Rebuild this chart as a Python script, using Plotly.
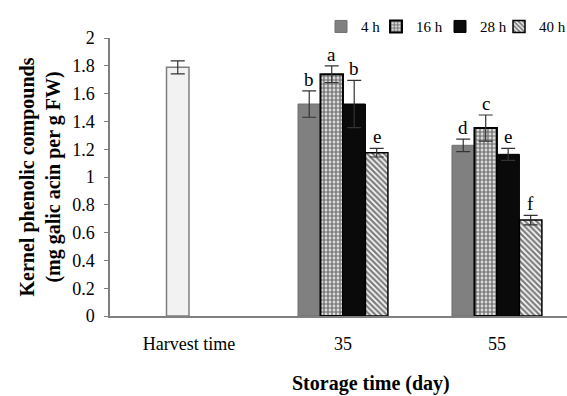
import plotly.graph_objects as go

categories = ["Harvest time", "35", "55"]
series_names = ["4 h", "16 h", "28 h", "40 h"]
storage_cats = ["35", "55"]
values_4h = [1.525, 1.228]
values_16h = [1.739, 1.352]
values_28h = [1.525, 1.163]
values_40h = [1.175, 0.690]
err_4h = [0.095, 0.045]
err_16h = [0.06, 0.094]
err_28h = [0.17, 0.043]
err_40h = [0.031, 0.034]
letters_4h = ["b", "d"]
letters_16h = ["a", "c"]
letters_28h = ["b", "e"]
letters_40h = ["e", "f"]
harvest_value = [1.789]
harvest_err = [0.047]
y_ticks = [0, 0.2, 0.4, 0.6, 0.8, 1, 1.2, 1.4, 1.6, 1.8, 2]
y_ticktext = ["0", "0.2", "0.4", "0.6", "0.8", "1", "1.2", "1.4", "1.6", "1.8", "2"]

FONT = "Liberation Serif, Times New Roman, serif"
W = 0.146
L, R, T, B = 110, 0, 38, 80
PW = 567 - L - R
PH = 396 - T - B

fig = go.Figure()

fig.add_trace(go.Bar(
    x=["Harvest time"], y=harvest_value, width=W, offset=-W,
    marker=dict(color="#f2f2f2", line=dict(color="#7f7f7f", width=1.5)),
    error_y=dict(type="data", array=harvest_err, color="#333333", thickness=1.2, width=7),
    showlegend=False, name="Harvest",
))

styles = [
    dict(color="#808080", line=dict(color="#707070", width=1)),
    dict(color="white", line=dict(color="black", width=2),
         pattern=dict(shape=".", fgcolor="black", bgcolor="white", size=4, solidity=0.7)),
    dict(color="#0a0a0a", line=dict(color="black", width=1)),
    dict(color="white", line=dict(color="black", width=1.5),
         pattern=dict(shape="\\", fgcolor="black", bgcolor="white", size=4, solidity=0.6)),
]
vals = [values_4h, values_16h, values_28h, values_40h]
errs = [err_4h, err_16h, err_28h, err_40h]
lets = [letters_4h, letters_16h, letters_28h, letters_40h]
legend_ids = ["legend", "legend2", "legend3", "legend4"]
legend_px = [321, 376, 440, 499]

for i, name in enumerate(series_names):
    fig.add_trace(go.Bar(
        x=storage_cats, y=vals[i], width=W, offset=-2 * W + i * W,
        marker=styles[i], name=name, legend=legend_ids[i],
        error_y=dict(type="data", array=errs[i], color="#333333", thickness=1.2, width=7),
    ))
    for j, c in enumerate(storage_cats):
        idx = categories.index(c)
        fig.add_annotation(
            x=idx - 1.5 * W + i * W, y=vals[i][j] + errs[i][j],
            text=lets[i][j],
            showarrow=False, yanchor="bottom", yshift=-1,
            font=dict(family=FONT, size=19, color="black"),
        )

fig.add_annotation(
    xref="paper", yref="paper", x=(371 - L) / PW, y=-0.244, yanchor="middle",
    text="<b>Storage time (day)</b>", showarrow=False,
    font=dict(family=FONT, size=20, color="black"),
)

legend_layout = {}
for i, lid in enumerate(legend_ids):
    legend_layout[lid] = dict(
        orientation="h", x=(legend_px[i] - L) / PW, xanchor="left",
        y=1.100, yanchor="top",
        font=dict(family=FONT, size=15, color="black"),
        itemwidth=30, bgcolor="rgba(0,0,0,0)",
    )

fig.update_layout(
    width=567, height=396,
    margin=dict(l=L, r=R, t=T, b=B, autoexpand=False),
    paper_bgcolor="white", plot_bgcolor="white",
    barmode="overlay",
    font=dict(family=FONT, color="black"),
    xaxis=dict(
        type="category", categoryorder="array", categoryarray=categories,
        range=[-0.513, 2.455],
        showline=True, linecolor="#808080", linewidth=1.5,
        ticks="", showgrid=False, zeroline=False,
        tickfont=dict(family=FONT, size=18, color="black"),
        ticklabelstandoff=11,
    ),
    yaxis=dict(
        range=[0, 2], tickvals=y_ticks, ticktext=y_ticktext,
        showline=True, linecolor="#808080", linewidth=1.5,
        ticks="outside", ticklen=4, tickcolor="#808080",
        showgrid=False, zeroline=False,
        tickfont=dict(family=FONT, size=18, color="black"),
        ticklabelstandoff=6,
        title=dict(text="<b>Kernel phenolic compounds<br>(mg galic acin per g FW)</b>",
                   font=dict(family=FONT, size=20, color="black"), standoff=6),
    ),
    **legend_layout,
)

fig.write_html("out.html", config={"displayModeBar": False},
               post_script="document.body.style.margin='0';document.body.style.overflow='hidden';")
